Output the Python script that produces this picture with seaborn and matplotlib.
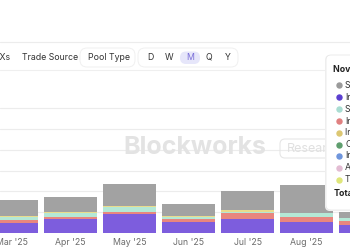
import matplotlib
matplotlib.use("Agg")
import matplotlib.pyplot as plt
from matplotlib.patches import FancyBboxPatch
import seaborn as sns
import pandas as pd
import numpy as np

# ---------------- data ----------------
months = ["Mar '25", "Apr '25", "May '25", "Jun '25", "Jul '25", "Aug '25", "Sep '25"]
series_names = ["Purple", "Salmon", "Teal", "Yellow", "Gray"]  # bottom -> top
purple = [48, 67, 91, 53, 67, 53, 38]
salmon = [14, 10, 12, 14, 29, 24, 19]
teal = [14, 19, 24, 12, 7, 19, 14]
yellow = [5, 5, 5, 2, 7, 2, 2]
gray = [77, 72, 103, 58, 91, 132, 26]
series_colors = ["#7d5ddd", "#e8867e", "#b4e8d6", "#e9dc8c", "#a2a2a2"]

legend_title = "Nov '25"
legend_labels = ["Solver", "Interface", "Smart Router", "Integrator", "Interface B",
                 "CoW", "Intent", "Aggregator", "Telegram"]
legend_colors = ["#9a9a9a", "#5b3fd0", "#a9ddd2", "#e08080", "#dcc772",
                 "#5f9e6e", "#6f95dc", "#e3bcd3", "#dfe67a"]
toolbar_items = ["DEXs", "Trade Source", "Pool Type"]
period_items = ["D", "W", "M", "Q", "Y"]

W, H = 350, 250
def fx(x):
    return x / W
def fy(y):
    return 1 - y / H

sns.set_theme(style="white")
plt.rcParams['font.family'] = ['Inter', 'DejaVu Sans']

fig = plt.figure(figsize=(3.5, 2.5), dpi=100)
fig.patch.set_facecolor("white")

ax = fig.add_axes([0, fy(233), 1, (233 - 100) / H])

layers = [purple, salmon, teal, yellow, gray]
cum = np.cumsum(np.array(layers), axis=0)
# draw from top layer down so lower layers overlay
for i in range(len(layers) - 1, -1, -1):
    d = pd.DataFrame({"month": months, "val": cum[i]})
    sns.barplot(data=d, x="month", y="val", color=series_colors[i], ax=ax,
                width=0.9, saturation=1, linewidth=0, zorder=3 + (len(layers) - i) * 0.01)

ax.set_xlim(-11.5 / 59, (350 - 11.5) / 59)
ax.set_ylim(0, 133 * 4.8)
ax.set_yticks([100, 200, 300, 400, 500, 600])
ax.yaxis.grid(True, color="#ececec", linewidth=0.8, zorder=0)
ax.set_axisbelow(True)
ax.set_yticklabels([])
ax.tick_params(axis="y", length=0)
ax.tick_params(axis="x", length=0, pad=3.5, labelsize=6.3, labelcolor="#6b6b6b")
ax.set_xlabel("")
ax.set_ylabel("")
for s in ax.spines.values():
    s.set_visible(False)
ax.patch.set_alpha(0)

# ---------------- decorations ----------------
fig.add_artist(plt.Line2D([0, 1], [fy(41.5), fy(41.5)], color="#ececec", lw=0.8))
fig.add_artist(plt.Line2D([0, 1], [fy(70), fy(70)], color="#efefef", lw=0.8))

tb_y = fy(57.5)
fig.text(fx(10), tb_y, toolbar_items[0], ha="right", va="center", fontsize=6.3, color="#333333")
fig.text(fx(22), tb_y, toolbar_items[1], ha="left", va="center", fontsize=6.3, color="#333333")
fig.text(fx(88), tb_y, toolbar_items[2], ha="left", va="center", fontsize=6.3, color="#333333")

def pill(x0, x1, y0, y1, fc="white", ec="#eaeaea", lw=0.7, r=7, z=1):
    p = FancyBboxPatch((fx(x0), fy(y1)), fx(x1) - fx(x0), fy(y0) - fy(y1),
                       boxstyle=f"round,pad=0,rounding_size={r / W}",
                       mutation_aspect=W / H, transform=fig.transFigure,
                       fc=fc, ec=ec, lw=lw, zorder=z)
    fig.add_artist(p)

pill(80, 135, 48, 67, ec="#f0f0f0")
pill(138, 238, 48, 67, ec="#f0f0f0")
pill(180, 200, 51.5, 64, fc="#e6e6fa", ec="none", r=6, z=2)
for lab, x in zip(period_items, [150, 169, 190, 209, 228]):
    fig.text(fx(x), tb_y, lab, ha="center", va="center", fontsize=6.3,
             color="#7b6fd8" if lab == "M" else "#333333", zorder=3)

# watermark
fig.text(fx(195), fy(147), "Blockworks", ha="center", va="center", fontsize=18,
         fontweight="bold", color="#e3e3e3", zorder=1)
pill(280, 345, 139, 158, fc="none", ec="#e6e6e6", lw=0.8, r=5, z=1)
fig.text(fx(287), fy(148.5), "Research", ha="left", va="center", fontsize=9,
         color="#e0e0e0", zorder=1)

# legend box
shadow = FancyBboxPatch((fx(325), fy(211)), fx(60), 156 / H,
                        boxstyle=f"round,pad=0,rounding_size={5 / W}", mutation_aspect=W / H,
                        transform=fig.transFigure, fc="#f3f3f3", ec="none", zorder=9)
fig.add_artist(shadow)
box = FancyBboxPatch((fx(326), fy(210)), fx(60), 155 / H,
                     boxstyle=f"round,pad=0,rounding_size={5 / W}", mutation_aspect=W / H,
                     transform=fig.transFigure, fc="white", ec="#e8e8e8", lw=0.6, zorder=10)
fig.add_artist(box)
fig.text(fx(333), fy(70), legend_title, ha="left", va="center", fontsize=6.3,
         fontweight="bold", color="#222222", zorder=11)
ys = [85, 97, 109, 121, 132.5, 144.5, 156, 168, 180]
for lab, c, y in zip(legend_labels, legend_colors, ys):
    fig.add_artist(plt.Line2D([fx(339)], [fy(y)], marker="o", markersize=3.6, color=c,
                              lw=0, transform=fig.transFigure, zorder=11))
    fig.text(fx(345), fy(y), lab, ha="left", va="center", fontsize=6.3,
             color="#333333", zorder=11)
fig.text(fx(334), fy(193), "Total", ha="left", va="center", fontsize=6.3,
         fontweight="bold", color="#222222", zorder=11)

fig.savefig("out.png", dpi=100)
